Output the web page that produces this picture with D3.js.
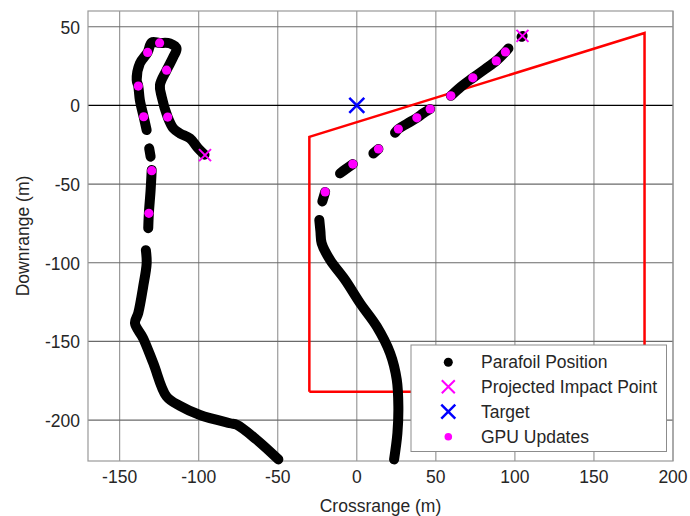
<!DOCTYPE html>
<html><head><meta charset="utf-8">
<script src="https://cdn.jsdelivr.net/npm/d3@7"></script>
<style>
body{margin:0;background:#fff;}
svg text{font-family:"Liberation Sans",Arial,sans-serif;fill:#262626;}
</style></head>
<body><svg id="c" width="690" height="516"></svg>
<script>
// ---- data ----
const xTicks = [-150,-100,-50,0,50,100,150,200];
const yTicks = [50,0,-50,-100,-150,-200];

// Parafoil positions, flight 1 (left), segments separated by data gaps
const flight1Seg1 = [[-132.9,-15.7],[-134.8,-7.2],[-137.2,3.4],[-138.2,12.3],[-139.2,16.1],[-137.2,26.7],[-132.3,33.7],[-129.7,40.0],[-124.7,39.7],[-118.2,39.4],[-114,36.2],[-116,30.9],[-120.3,22.4],[-124.5,12.9],[-123.4,5.5],[-119.6,-7.4],[-116,-14.6],[-111.8,-17.8],[-105.5,-21],[-100.3,-27.3],[-96.3,-31.3]];
const flight1Seg2 = [[-131.3,-27.3],[-130.4,-32.6]];
const flight1Seg3 = [[-129.7,-41],[-130.4,-53.8],[-131.5,-68.6],[-131.9,-78]];
const flight1Seg4 = [[-133.4,-92],[-132.9,-100.3],[-135.1,-115.2],[-138.2,-132],[-140.3,-138.4],[-135.1,-148],[-128.7,-163.8],[-120.3,-185],[-111.8,-191],[-99.2,-196.8],[-80.2,-202],[-75.9,-203],[-63.3,-212.5],[-49.6,-225]];

// Parafoil positions, flight 2 (right)
const flight2Seg0 = [[104.2,43.6],[104.9,44.1]];
const flight2Seg1 = [[59.5,6.1],[66,12],[73.4,17.5],[81,23],[88.2,28.3],[94,34],[95.9,36.2]];
const flight2Seg2 = [[24.2,-17.4],[26.3,-15],[32,-11.5],[38,-7.9],[42,-5],[46.4,-2.3]];
const flight2Seg3 = [[10.5,-30.5],[13.7,-27.7]];
const flight2Seg4 = [[-10.6,-43.2],[-7,-40.5],[-2.5,-37.3]];
const flight2Seg5 = [[-21.8,-61],[-20,-55]];
const flight2Seg6 = [[-23.7,-72.8],[-23,-80],[-22.2,-87.6],[-16.9,-98.2],[-7.4,-110.9],[2.1,-125.7],[12.7,-140.6],[21.1,-157.5],[25.3,-174.4],[26.3,-191.4],[25.7,-208.3],[23.6,-225]];

// GPU updates
const gpuX = [-124.7,-132.3,-138.2,-134.8,-120.3,-119.6,-129.7,-131.5, 94,88.2,73.4,59.5,46.4,38,26.3,13.7,-2.5,-20];
const gpuY = [39.7,33.7,12.3,-7.2,22.4,-7.4,-41.5,-68.6, 34,28.3,17.5,6.1,-2.3,-7.9,-15,-27.7,-37.3,-55];

// Projected impact points and target
const impactX = [-96,104.8];
const impactY = [-31.6,44.2];
const targetX = [0];
const targetY = [0];

// Allowed zone (red polygon)
const zoneX = [-30,-30,182,182,-30];
const zoneY = [-182,-20,46,-182,-182];

const legendLabels = ["Parafoil Position","Projected Impact Point","Target","GPU Updates"];

// ---- chart ----
const L=88, R=673, T=11, B=461;
const svg = d3.select("#c");
const x = d3.scaleLinear().domain([-170,200]).range([L,R]);
const y = d3.scaleLinear().domain([-226,60]).range([B,T]);

svg.append("rect").attr("x",L).attr("y",T).attr("width",R-L).attr("height",B-T).attr("fill","#fff");

// grid
svg.append("g").selectAll("line").data(xTicks).join("line")
  .attr("x1",d=>x(d)).attr("x2",d=>x(d)).attr("y1",T).attr("y2",B)
  .attr("stroke","#9a9a9a").attr("stroke-width",1.2);
svg.append("g").selectAll("line").data(yTicks).join("line")
  .attr("x1",L).attr("x2",R).attr("y1",d=>y(d)).attr("y2",d=>y(d))
  .attr("stroke",d=>d===0?"#000":"#6a6a6a").attr("stroke-width",1.2);

// box
svg.append("rect").attr("x",L).attr("y",T).attr("width",R-L).attr("height",B-T)
  .attr("fill","none").attr("stroke","#999").attr("stroke-width",1.2);

// tick labels
svg.append("g").selectAll("text").data(xTicks).join("text")
  .attr("x",d=>x(d)).attr("y",483).attr("text-anchor","middle")
  .attr("font-size",17.5).text(d=>d);
svg.append("g").selectAll("text").data(yTicks).join("text")
  .attr("x",80).attr("y",d=>y(d)+7).attr("text-anchor","end")
  .attr("font-size",17.5).text(d=>d);

// axis titles
svg.append("text").attr("x",(L+R)/2).attr("y",512).attr("text-anchor","middle")
  .attr("font-size",17.5).text("Crossrange (m)");
svg.append("text").attr("transform",`translate(29,${(T+B)/2}) rotate(-90)`)
  .attr("text-anchor","middle").attr("font-size",17.5).text("Downrange (m)");

// red zone
const line = d3.line().x(d=>x(d[0])).y(d=>y(d[1]));
svg.append("path").attr("d",line(zoneX.map((v,i)=>[v,zoneY[i]])))
  .attr("fill","none").attr("stroke","#ff0000").attr("stroke-width",2.5);

// trajectories
const segs=[flight1Seg1,flight1Seg2,flight1Seg3,flight1Seg4,flight2Seg0,flight2Seg1,flight2Seg2,flight2Seg3,flight2Seg4,flight2Seg5,flight2Seg6];
const cl = d3.line().x(d=>x(d[0])).y(d=>y(d[1])).curve(d3.curveCatmullRom);
svg.append("g").selectAll("path").data(segs).join("path")
  .attr("d",d=>cl(d)).attr("fill","none").attr("stroke","#000")
  .attr("stroke-width",10).attr("stroke-linecap","round").attr("stroke-linejoin","round");

// GPU updates
svg.append("g").selectAll("circle").data(gpuX).join("circle")
  .attr("cx",d=>x(d)).attr("cy",(d,i)=>y(gpuY[i])).attr("r",4.6).attr("fill","#ff00ff");

function cross(g,cx,cy,s,color,w){
  g.append("path").attr("d",`M${cx-s},${cy-s}L${cx+s},${cy+s}M${cx-s},${cy+s}L${cx+s},${cy-s}`)
   .attr("stroke",color).attr("stroke-width",w).attr("fill","none");
}
const mk = svg.append("g");
impactX.forEach((v,i)=>cross(mk,x(v),y(impactY[i]),6,"#ff00ff",2));
targetX.forEach((v,i)=>cross(mk,x(v),y(targetY[i]),7.5,"#0000ff",2.5));

// legend
const lg = svg.append("g");
lg.append("rect").attr("x",411).attr("y",345).attr("width",255.5).attr("height",106.5)
  .attr("fill","#fff").attr("stroke","#8c8c8c").attr("stroke-width",1);
const rowY = [362.3,386.7,411.7,436.7];
const mx = 448.3;
lg.append("circle").attr("cx",mx).attr("cy",rowY[0]).attr("r",4.5).attr("fill","#000");
cross(lg,mx,rowY[1],6.5,"#ff00ff",2);
cross(lg,mx,rowY[2],7,"#0000ff",2.5);
lg.append("circle").attr("cx",mx).attr("cy",rowY[3]).attr("r",3.8).attr("fill","#ff00ff");
lg.selectAll("text").data(legendLabels).join("text")
  .attr("x",481).attr("y",(d,i)=>rowY[i]+6).attr("font-size",17.5).text(d=>d);
</script></body></html>
